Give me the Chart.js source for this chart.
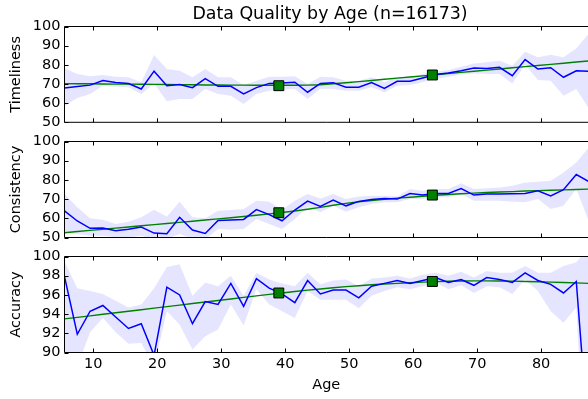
<!DOCTYPE html>
<html>
<head>
<meta charset="utf-8">
<script src="https://cdn.jsdelivr.net/npm/chart.js@4.4.0/dist/chart.umd.min.js"></script>
<style>
  html, body { margin: 0; padding: 0; overflow: hidden; background: #fff; }
  #wrap { position: relative; width: 588px; height: 399px; overflow: hidden; }
  canvas { position: absolute; left: 0; }
</style>
</head>
<body>
<div id="wrap">
  <canvas id="chartTimeliness" width="588" height="135" style="top:0px"></canvas>
  <canvas id="chartConsistency" width="588" height="127" style="top:125px"></canvas>
  <canvas id="chartAccuracy" width="588" height="159" style="top:240px"></canvas>
</div>
<script>
// ages (bin centres)
const ages = [5.5, 7.5, 9.5, 11.5, 13.5, 15.5, 17.5, 19.5, 21.5, 23.5, 25.5, 27.5, 29.5, 31.5,
  33.5, 35.5, 37.5, 39.5, 41.5, 43.5, 45.5, 47.5, 49.5, 51.5, 53.5, 55.5, 57.5, 59.5,
  61.5, 63.5, 65.5, 67.5, 69.5, 71.5, 73.5, 75.5, 77.5, 79.5, 81.5, 83.5, 85.5, 87.5];
const xTicks = [10, 20, 30, 40, 50, 60, 70, 80];
const markerAges = [39, 63];

const timelinessMean = [67.9, 68.7, 69.4, 71.8, 70.8, 70.2, 67.4, 76.7, 69.1, 69.7, 68.1, 72.8, 68.8, 68.8,
  64.8, 68.1, 70.3, 70.5, 70.9, 65.7, 70.3, 70.7, 68.3, 68.3, 70.7, 67.7, 71.4, 71.4,
  73.1, 74.9, 75.7, 76.9, 78.3, 78.1, 78.7, 74.3, 82.7, 77.8, 78.5, 73.5, 76.9, 76.6];
const timelinessUpper = [78.2, 75.2, 74.0, 74.7, 73.8, 73.5, 70.9, 85.1, 77.8, 76.9, 73.5, 77.8, 73.5, 73.5,
  69.5, 71.7, 73.8, 73.8, 74.0, 70.0, 73.8, 73.5, 71.7, 71.7, 73.5, 70.9, 73.8, 73.5,
  75.2, 76.4, 77.3, 79.0, 80.7, 81.3, 82.1, 79.5, 86.8, 83.9, 85.3, 83.9, 88.5, 96.5];
const timelinessLower = [58.5, 62.7, 64.8, 69.1, 68.6, 68.3, 64.8, 70.3, 61.0, 62.2, 62.2, 67.4, 64.8, 63.9,
  59.6, 64.8, 66.5, 67.1, 67.4, 62.2, 67.5, 67.4, 66.5, 66.5, 68.3, 65.7, 69.1, 69.5,
  70.9, 72.6, 73.8, 74.9, 75.5, 75.2, 75.2, 70.3, 79.9, 72.1, 71.7, 63.9, 67.4, 57.0];
const timelinessTrend = [70.2, 70.15, 70.1, 70.0, 69.95, 69.9, 69.85, 69.8, 69.7, 69.65, 69.6, 69.5, 69.5, 69.4,
  69.4, 69.35, 69.3, 69.3, 69.35, 69.4, 69.6, 70.1, 70.65, 71.25, 71.85, 72.45, 73.05, 73.65,
  74.25, 74.85, 75.45, 76.05, 76.65, 77.25, 77.85, 78.45, 79.05, 79.65, 80.25, 80.85, 81.45, 82.05];
const timelinessMarkers = [69.1, 74.7];

const consistencyMean = [63.9, 58.6, 54.8, 55.0, 53.5, 54.3, 55.4, 52.3, 52.0, 60.5, 53.9, 52.1, 58.9, 59.1,
  59.4, 64.5, 61.9, 58.7, 64.3, 69.0, 66.2, 69.5, 66.5, 68.8, 69.8, 70.3, 70.0, 72.9,
  72.1, 72.9, 72.9, 75.5, 72.1, 72.6, 72.6, 72.8, 72.9, 74.3, 71.7, 74.9, 82.8, 79.0];
const consistencyUpper = [72.6, 65.7, 60.0, 59.3, 57.0, 58.2, 60.5, 64.5, 61.0, 68.6, 60.5, 60.0, 63.9, 64.3,
  64.8, 69.1, 68.6, 64.5, 69.1, 72.6, 70.3, 72.6, 70.0, 71.4, 71.7, 71.7, 71.4, 75.2,
  74.3, 75.2, 75.2, 78.3, 75.2, 75.7, 76.1, 76.9, 78.7, 79.0, 79.5, 83.9, 89.0, 97.0];
const consistencyLower = [53.0, 51.8, 50.9, 50.9, 50.1, 50.0, 50.9, 49.0, 49.5, 51.8, 49.5, 49.0, 54.4, 54.1,
  54.4, 59.6, 57.0, 54.4, 59.6, 65.7, 63.1, 66.5, 63.4, 65.7, 67.4, 68.3, 68.3, 70.0,
  70.0, 70.9, 70.9, 72.6, 69.1, 69.1, 69.1, 68.6, 68.3, 70.0, 64.8, 66.5, 75.2, 58.0];
const consistencyTrend = [52.5, 53.1, 53.7, 54.3, 54.9, 55.5, 56.1, 56.7, 57.3, 57.9, 58.5, 59.1, 59.7, 60.3,
  60.9, 61.6, 62.3, 63.0, 63.8, 64.7, 65.7, 66.8, 67.8, 68.6, 69.3, 69.9, 70.5, 71.0,
  71.5, 72.0, 72.4, 72.8, 73.1, 73.4, 73.7, 73.9, 74.2, 74.4, 74.6, 74.8, 75.0, 75.2];
const consistencyMarkers = [62.9, 72.1];

const accuracyMean = [97.9, 91.9, 94.3, 94.9, 93.7, 92.5, 93.0, 89.7, 96.8, 96.0, 93.0, 95.3, 95.0, 97.2,
  94.8, 97.7, 96.7, 96.1, 95.2, 97.5, 96.1, 96.5, 96.5, 95.7, 96.9, 97.2, 97.5, 97.2,
  97.5, 97.8, 97.3, 97.6, 97.0, 97.8, 97.6, 97.3, 98.3, 97.5, 97.1, 96.2, 97.4, 80.0];
const accuracyUpper = [99.5, 96.7, 96.4, 96.1, 95.4, 94.7, 95.0, 96.7, 98.9, 99.2, 95.9, 97.3, 96.9, 98.0,
  95.9, 98.3, 97.6, 97.2, 96.9, 98.3, 97.1, 97.5, 97.6, 96.9, 97.7, 97.8, 98.0, 97.7,
  98.1, 98.3, 98.0, 98.4, 97.8, 98.5, 98.3, 98.3, 99.0, 98.3, 98.3, 99.0, 99.4, 101.0];
const accuracyLower = [87.0, 88.5, 92.1, 93.6, 92.1, 90.9, 91.0, 88.5, 94.3, 92.9, 90.3, 91.7, 92.4, 95.0,
  92.8, 96.6, 95.0, 94.3, 93.6, 96.4, 95.5, 95.5, 95.5, 94.6, 95.9, 96.4, 96.8, 96.6,
  96.9, 97.3, 96.6, 97.0, 96.2, 96.9, 96.8, 96.1, 97.6, 96.4, 94.3, 93.1, 94.7, 70.0];
const accuracyTrend = [93.5, 93.66, 93.82, 93.98, 94.14, 94.3, 94.46, 94.62, 94.78, 94.94, 95.1, 95.26, 95.42, 95.58,
  95.74, 95.9, 96.05, 96.2, 96.35, 96.5, 96.62, 96.75, 96.86, 96.96, 97.05, 97.13, 97.2, 97.27,
  97.33, 97.38, 97.42, 97.45, 97.46, 97.46, 97.45, 97.43, 97.4, 97.37, 97.33, 97.29, 97.25, 97.2];
const accuracyMarkers = [96.2, 97.4];

const timelinessTicks = [50, 60, 70, 80, 90, 100];
const consistencyTicks = [50, 60, 70, 80, 90, 100];
const accuracyTicks = [90, 92, 94, 96, 98, 100];

// the original axes run from 5.5 to 88.5 but the figure is cut off at the window edge (~87.3)
const xMin = 5.5;
const xVisibleMax = 87.33;
const xTitleCentre = 47; // middle of the full 5.5..88.5 axis

Chart.defaults.font.family = "'DejaVu Sans', sans-serif";
Chart.defaults.color = "#000";

const toPoints = (xs, ys) => xs.map((x, i) => ({ x: x, y: ys[i] }));

// left/top/bottom spines plus inward tick marks (matplotlib classic look)
const framePlugin = {
  id: "frame",
  afterDraw(chart, args, opts) {
    const ctx = chart.ctx;
    const area = chart.chartArea;
    const xScale = chart.scales.x;
    const yScale = chart.scales.y;
    ctx.save();
    ctx.strokeStyle = "#000";
    ctx.lineWidth = 1;
    ctx.beginPath();
    ctx.moveTo(chart.width, area.top);
    ctx.lineTo(area.left, area.top);
    ctx.lineTo(area.left, area.bottom);
    ctx.lineTo(chart.width, area.bottom);
    xTicks.forEach((v) => {
      const px = Math.round(xScale.getPixelForValue(v)) + 0.5;
      ctx.moveTo(px, area.bottom);
      ctx.lineTo(px, area.bottom - 4);
      ctx.moveTo(px, area.top);
      ctx.lineTo(px, area.top + 4);
    });
    yScale.ticks.forEach((t) => {
      const py = Math.round(yScale.getPixelForValue(t.value)) + 0.5;
      ctx.moveTo(area.left, py);
      ctx.lineTo(area.left + 4, py);
    });
    ctx.stroke();
    if (opts.title) {
      ctx.fillStyle = "#000";
      ctx.font = "17.4px 'DejaVu Sans', sans-serif";
      ctx.textAlign = "center";
      ctx.textBaseline = "alphabetic";
      ctx.fillText(opts.title, xScale.getPixelForValue(xTitleCentre), 19.3);
    }
    ctx.restore();
  },
};

function makePanel(canvasId, p) {
  const ctx = document.getElementById(canvasId).getContext("2d");
  return new Chart(ctx, {
    type: "line",
    data: {
      datasets: [
        {
          data: toPoints(markerAges, p.markers),
          showLine: false,
          pointStyle: "rect",
          pointRadius: 7,
          pointBackgroundColor: "#008000",
          pointBorderColor: "#000",
          pointBorderWidth: 1,
          order: 0,
        },
        {
          data: toPoints(ages, p.mean),
          borderColor: "#0000ff",
          borderWidth: 1.5,
          pointRadius: 0,
          fill: false,
          order: 1,
        },
        {
          data: toPoints(ages, p.trend),
          borderColor: "#008000",
          borderWidth: 1.4,
          pointRadius: 0,
          fill: false,
          order: 2,
        },
        {
          data: toPoints(ages, p.upper),
          borderColor: "transparent",
          borderWidth: 0,
          pointRadius: 0,
          backgroundColor: "rgba(0, 0, 255, 0.1)",
          fill: "+1",
          order: 3,
        },
        {
          data: toPoints(ages, p.lower),
          borderColor: "transparent",
          borderWidth: 0,
          pointRadius: 0,
          fill: false,
          order: 4,
        },
      ],
    },
    options: {
      responsive: false,
      animation: false,
      events: [],
      layout: { padding: p.padding, autoPadding: false },
      elements: { line: { tension: 0 } },
      plugins: {
        legend: { display: false },
        tooltip: { enabled: false },
        frame: { title: p.title },
      },
      scales: {
        x: {
          type: "linear",
          min: xMin,
          max: xVisibleMax,
          display: p.showX,
          afterBuildTicks: (s) => { s.ticks = xTicks.map((v) => ({ value: v })); },
          afterFit: (s) => { if (p.showX) s.height = 46.5; },
          grid: { display: false, drawTicks: false },
          border: { display: false },
          ticks: { font: { size: 14.5 }, padding: 3, maxRotation: 0, autoSkip: false, color: "#000" },
          title: {
            display: p.showX,
            text: "Age",
            font: { size: 14.5 },
            padding: { top: 0, bottom: 4.8 },
            color: "#000",
          },
        },
        y: {
          min: p.yTicks[0],
          max: p.yTicks[p.yTicks.length - 1],
          afterBuildTicks: (s) => { s.ticks = p.yTicks.map((v) => ({ value: v })); },
          afterFit: (s) => { s.width = 64.5; },
          grid: { display: false, drawTicks: false },
          border: { display: false },
          ticks: { font: { size: 14.5 }, padding: 4, autoSkip: false, color: "#000" },
          title: {
            display: true,
            text: p.label,
            font: { size: 14.5 },
            padding: { top: 8, bottom: 0 },
            color: "#000",
          },
        },
      },
    },
    plugins: [framePlugin],
  });
}

makePanel("chartTimeliness", {
  title: "Data Quality by Age (n=16173)",
  label: "Timeliness",
  mean: timelinessMean,
  upper: timelinessUpper,
  lower: timelinessLower,
  trend: timelinessTrend,
  markers: timelinessMarkers,
  yTicks: timelinessTicks,
  showX: false,
  padding: { top: 26.5, bottom: 12.5, left: 0, right: 0 },
});

makePanel("chartConsistency", {
  label: "Consistency",
  mean: consistencyMean,
  upper: consistencyUpper,
  lower: consistencyLower,
  trend: consistencyTrend,
  markers: consistencyMarkers,
  yTicks: consistencyTicks,
  showX: false,
  padding: { top: 16.5, bottom: 14.5, left: 0, right: 0 },
});

makePanel("chartAccuracy", {
  label: "Accuracy",
  mean: accuracyMean,
  upper: accuracyUpper,
  lower: accuracyLower,
  trend: accuracyTrend,
  markers: accuracyMarkers,
  yTicks: accuracyTicks,
  showX: true,
  padding: { top: 16.5, bottom: 0, left: 0, right: 0 },
});
</script>
</body>
</html>
